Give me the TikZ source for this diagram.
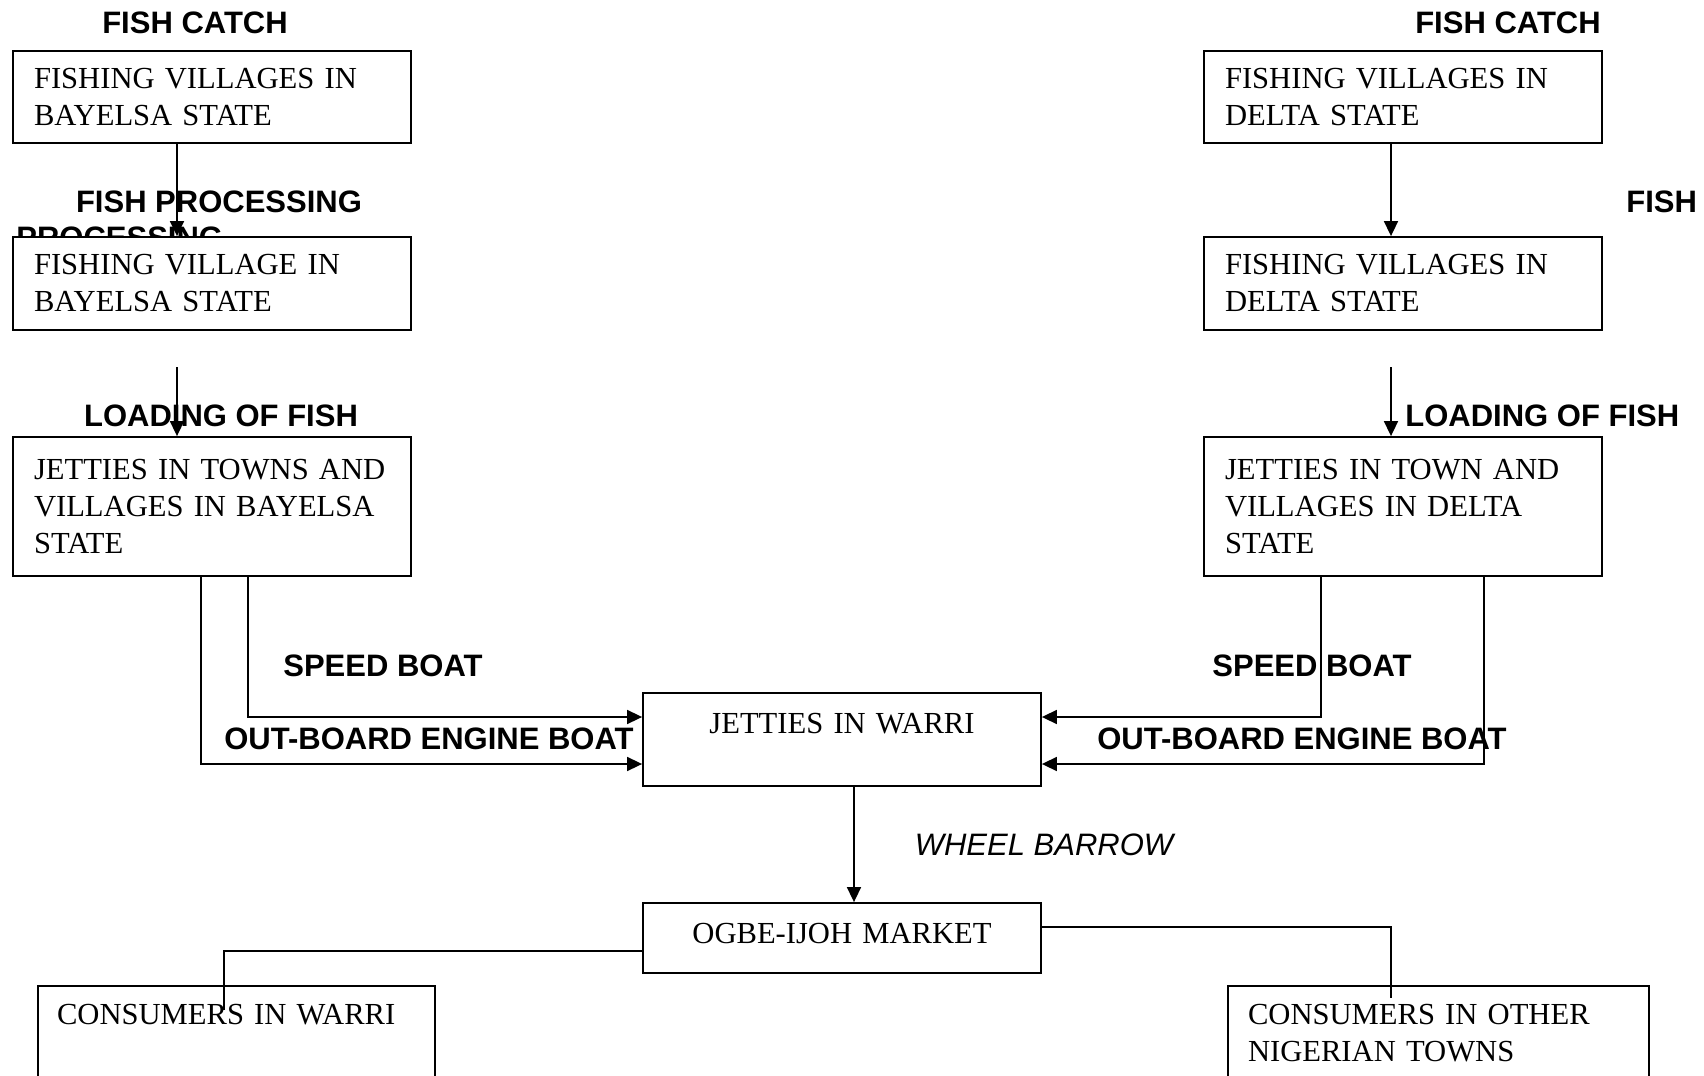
\documentclass[tikz,border=0pt]{standalone}
\usepackage{fontspec}
\setmainfont{Liberation Serif}
\setsansfont{Liberation Sans}
\usetikzlibrary{arrows.meta}

\begin{document}
\begin{tikzpicture}[
  x=0.5pt, y=-0.5pt,
  box/.style={draw, fill=white, line width=0.9pt, minimum width=199pt, text width=178pt,
    inner xsep=10.5pt, align=left, font=\fontsize{15.3}{18.5}\selectfont},
  tag/.style={font=\sffamily\bfseries\fontsize{15.5}{18}\selectfont, inner sep=0pt},
  arr/.style={line width=0.8pt, -{Triangle[length=7.5pt,width=7pt]}},
  link/.style={line width=0.8pt}
  ]
  \useasboundingbox (0,0) rectangle (1704,1076);

  \node[tag] (catchL) at (195,23) {FISH CATCH};
  \node[tag] (catchR) at (1508,23) {FISH CATCH};
  \node[tag] (procL) at (219,202) {FISH PROCESSING};
  \node[tag, anchor=west] (procL2) at (16,238) {PROCESSING};
  \node[tag, anchor=west] (procR) at (1626,202) {FISH};
  \node[tag] (loadL) at (221,416) {LOADING OF FISH};
  \node[tag, anchor=west] (loadR) at (1405,416) {LOADING OF FISH};
  \node[tag] (speedL) at (383,666) {SPEED BOAT};
  \node[tag] (speedR) at (1312,666) {SPEED BOAT};
  \node[tag] (obL) at (429,739) {OUT-BOARD ENGINE BOAT};
  \node[tag] (obR) at (1302,739) {OUT-BOARD ENGINE BOAT};
  \node[tag, font=\sffamily\itshape\fontsize{15.5}{18}\selectfont] (wheel) at (1044,845) {WHEEL BARROW};

  \node[box, minimum height=46pt] (bay1) at (212,97) {FISHING VILLAGES IN\\ BAYELSA STATE};
  \node[box, minimum height=46.5pt] (bay2) at (212,283.5) {FISHING VILLAGE IN\\ BAYELSA STATE};
  \node[box, minimum height=69.5pt] (bay3) at (212,506.5) {JETTIES IN TOWNS AND\\ VILLAGES IN BAYELSA\\ STATE};
  \node[box, minimum height=46pt] (del1) at (1403,97) {FISHING VILLAGES IN\\ DELTA STATE};
  \node[box, minimum height=46.5pt] (del2) at (1403,283.5) {FISHING VILLAGES IN\\ DELTA STATE};
  \node[box, minimum height=69.5pt] (del3) at (1403,506.5) {JETTIES IN TOWN AND\\ VILLAGES IN DELTA\\ STATE};
  \node[box, align=center, minimum height=46.5pt, text height=11pt, text depth=17.5pt] (warri) at (842,739.5) {JETTIES IN WARRI};
  \node[box, align=center, minimum height=35pt, text height=11pt, text depth=6pt] (ogbe) at (842,938) {OGBE-IJOH MARKET};
  \node[box, anchor=north, minimum width=198.5pt, text width=179.5pt, inner xsep=9.5pt,
    inner ysep=9.3pt, text depth=60pt] (conW) at (236.5,985) {CONSUMERS IN WARRI};
  \node[box, anchor=north, minimum width=210.5pt, text width=190.5pt, inner xsep=10pt,
    inner ysep=9.3pt, text depth=60pt] (conN) at (1438.5,985) {CONSUMERS IN OTHER\\ NIGERIAN TOWNS};

  \coordinate (lx) at (177,0);
  \coordinate (lx2) at (177,367);
  \coordinate (rx) at (1391,0);
  \coordinate (rx2) at (1391,367);
  \draw[arr] (bay1.south -| lx) -- (bay2.north -| lx);
  \draw[arr] (lx2) -- (bay3.north -| lx2);
  \draw[arr] (del1.south -| rx) -- (del2.north -| rx);
  \draw[arr] (rx2) -- (del3.north -| rx2);

  \coordinate (lspeed) at (248,717);
  \coordinate (lob) at (201,764);
  \coordinate (rspeed) at (1321,717);
  \coordinate (rob) at (1484,764);
  \draw[arr] (bay3.south -| lspeed) |- (warri.west |- lspeed);
  \draw[arr] (bay3.south -| lob) |- (warri.west |- lob);
  \draw[arr] (del3.south -| rspeed) |- (warri.east |- rspeed);
  \draw[arr] (del3.south -| rob) |- (warri.east |- rob);

  \coordinate (wx) at (854,0);
  \draw[arr] (warri.south -| wx) -- (ogbe.north -| wx);

  \coordinate (lcon) at (224,951);
  \coordinate (lend) at (224,1010);
  \coordinate (rcon) at (1391,927);
  \coordinate (rend) at (1391,998);
  \draw[link] (ogbe.west |- lcon) -- (lcon) -- (lend);
  \draw[link] (ogbe.east |- rcon) -- (rcon) -- (rend);
\end{tikzpicture}
\end{document}
